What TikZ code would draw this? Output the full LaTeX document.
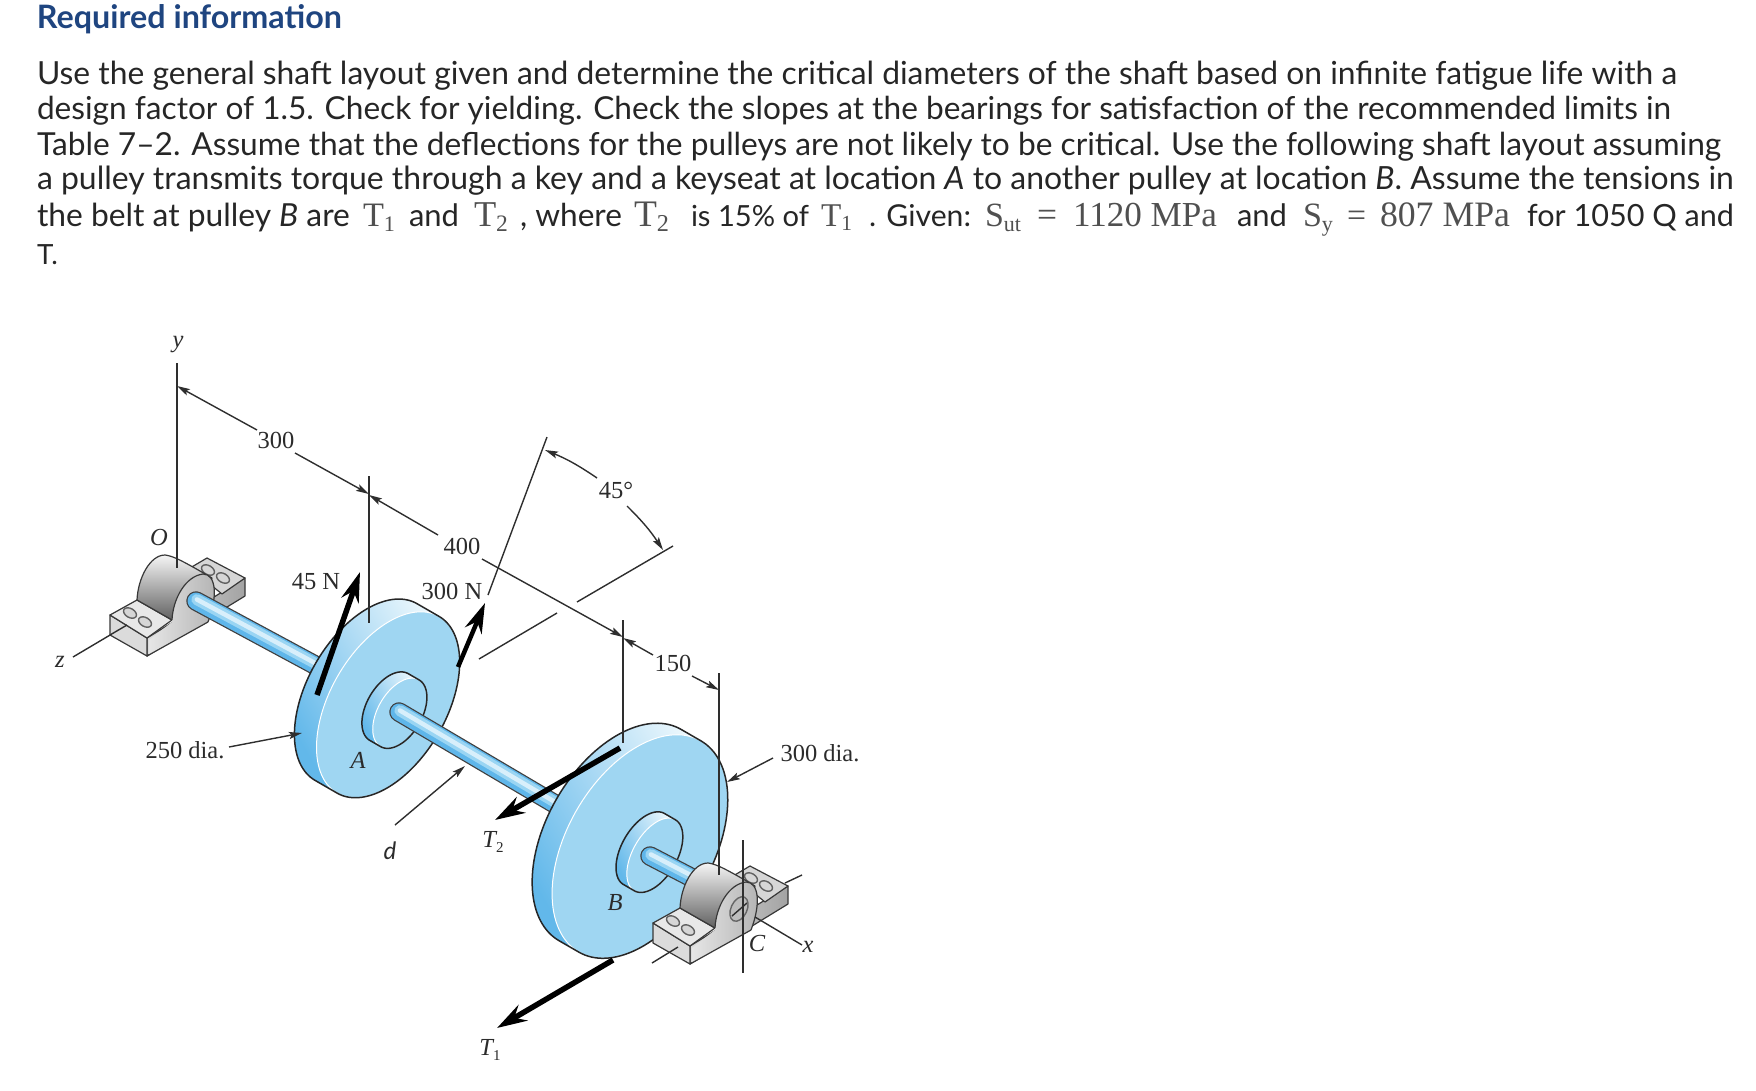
\documentclass[tikz,border=0pt]{standalone}
\usepackage{graphicx}
\usepackage{fontspec}
\setmainfont{Lato}
\newfontfamily\serifx{Liberation Serif}
\usetikzlibrary{calc,arrows.meta}
\definecolor{titleblue}{HTML}{1F4580}
\definecolor{bodyink}{HTML}{262626}
\definecolor{serifgray}{HTML}{505050}
\definecolor{labink}{HTML}{2B2B2B}
\definecolor{rimdeep}{HTML}{62B8EA}
\definecolor{rimmid}{HTML}{A4DAF4}
\definecolor{rimlight}{HTML}{EDF8FD}
\definecolor{faceblue}{HTML}{9FD6F2}
\definecolor{shaftbase}{HTML}{5FB6EA}
\definecolor{shaftmid}{HTML}{9AD5F3}
\definecolor{shaftlight}{HTML}{D8EFFB}
\newcommand\bodyfont{\fontsize{29}{29}\selectfont\color{bodyink}}
\newcommand\sfont{\fontsize{34}{34}\selectfont\serifx\color{serifgray}}
\newcommand\labfont{\fontsize{24.5}{24.5}\selectfont\serifx\color{labink}}
% name, x, baseline y, width, content
\newcommand\fitt[5]{\node[anchor=base west,inner sep=0pt,outer sep=0pt] (#1) at (#2,#3) {\resizebox{#4pt}{!}{#5}};}
\newcommand\tsub[2]{#1\raisebox{-5pt}{\fontsize{22}{22}\selectfont #2}}
\newcommand\lsub[2]{{\itshape #1}\raisebox{-5pt}{\fontsize{15}{15}\selectfont #2}}
\tikzset{
  dimline/.style={draw=black!82,line width=1.4pt},
  dimarrow/.style={dimline,-{Stealth[length=13pt,width=7pt,inset=2.5pt]}},
  forcearrow/.style={draw=black,line width=5.5pt,-{Stealth[length=30pt,width=18pt,inset=10pt]}},
  lab/.style={inner sep=0pt,font=\labfont},
  holeedge/.style={draw=black!62,line width=1.4pt,fill=black!16},
  solidedge/.style={draw=black!78,line width=1.2pt,line join=round},
}
% back centre x,y ; a ; b ; length along shaft axis
\newcommand\pulleybody[5]{%
  \begin{scope}[shift={(#1,#2)},rotate=60]
    \shade[left color=rimlight,middle color=rimmid,right color=rimdeep,shading angle=-60]
      plot[domain=180:360,samples=70] ({#3*cos(\x)},{#4*sin(\x)}) --
      plot[domain=0:180,samples=70] ({#3*cos(\x)},{#5+#4*sin(\x)}) -- cycle;
    \path[fill=faceblue] plot[domain=0:360,samples=120] ({#3*cos(\x)},{#5+#4*sin(\x)}) -- cycle;
    \path[draw=white,line width=1pt] plot[domain=0:360,samples=120] ({#3*cos(\x)},{#5+#4*sin(\x)}) -- cycle;
    \path[draw=black!85,line width=1.5pt,line join=round]
      plot[domain=180:360,samples=70] ({#3*cos(\x)},{#4*sin(\x)}) --
      plot[domain=0:180,samples=70] ({#3*cos(\x)},{#5+#4*sin(\x)}) -- cycle;
  \end{scope}}
% shaft between two named coordinates
\newcommand\shaftbar[2]{%
  \draw[black!75,line width=19.5pt,line cap=round] (#1) -- (#2);
  \draw[shaftbase,line width=17pt,line cap=round] (#1) -- (#2);
  \draw[shaftmid,line width=11pt,line cap=round] ($(#1)!1.6pt!90:(#2)$) -- ($(#2)!1.6pt!-90:(#1)$);
  \draw[shaftlight,line width=4.5pt,line cap=round] ($(#1)!1.8pt!90:(#2)$) -- ($(#2)!1.8pt!-90:(#1)$);}
% bearing pedestal, drawn in the coordinates of the one at O and shifted
\newcommand\bearingblock[2]{%
  \begin{scope}[shift={(#1,#2)}]
    \shade[solidedge,left color=black!14,right color=black!36] (147,638) -- (245,578) -- (245,596) -- (147,656) -- cycle;
    \path[solidedge,fill=black!16] (190,568) -- (207,558) -- (245,578) -- (222,594) -- cycle;
    \path[holeedge,shift={(208,570)},rotate=-30] (0,0) ellipse (7pt and 4.5pt);
    \path[holeedge,shift={(223,578)},rotate=-30] (0,0) ellipse (7pt and 4.5pt);
    \path[solidedge,fill=black!14] (110,615) -- (147,638) -- (147,656) -- (110,635) -- cycle;
    \path[solidedge,fill=black!9] (110,615) -- (137,600) -- (172,620) -- (147,638) -- cycle;
    \path[holeedge,shift={(130,613)},rotate=-30] (0,0) ellipse (7pt and 4.5pt);
    \path[holeedge,shift={(145,622)},rotate=-30] (0,0) ellipse (7pt and 4.5pt);
    \shade[solidedge,top color=black!4,bottom color=black!62]
      (137,600) .. controls (138,578) and (150,555) .. (165,555) .. controls (172,556) and (178,558) .. (212,578)
      -- (203,600) -- (172,620) -- cycle;
    \shade[draw=none,left color=black!10,right color=black!30] (172,622) .. controls (172,598) and (186,576) .. (203,574)
      .. controls (216,574) and (218,596) .. (208,622) -- (149,655) -- (149,640) -- cycle;
    \path[solidedge] (172,620) .. controls (173,598) and (186,576) .. (203,574) .. controls (216,574) and (218,596) .. (208,622);
    \path[solidedge] (147,656) -- (208,622);
  \end{scope}}
\begin{document}
\begin{tikzpicture}[x=1pt,y=-1pt]
\useasboundingbox (0,0) rectangle (1756,1090);
% ---- text ----
\fitt{title}{37}{28}{305}{\fontsize{29}{29}\selectfont\bfseries\color{titleblue}Required information}
\fitt{lineA}{37}{84}{1640}{\bodyfont Use the general shaft layout given and determine the critical diameters of the shaft based on infinite fatigue life with a}
\fitt{lineB}{37}{119}{1634}{\bodyfont design factor of 1.5. Check for yielding. Check the slopes at the bearings for satisfaction of the recommended limits in}
\fitt{lineC}{37}{155}{1684}{\bodyfont Table 7--2. Assume that the deflections for the pulleys are not likely to be critical. Use the following shaft layout assuming}
\fitt{lineD}{37}{189}{1697}{\bodyfont a pulley transmits torque through a key and a keyseat at location \textit{A} to another pulley at location \textit{B}. Assume the tensions in}
\fitt{eA}{37}{226}{313}{\bodyfont the belt at pulley \textit{B} are}
\fitt{eB}{363}{226}{32}{\sfont\tsub{T}{1}}
\fitt{eC}{409}{226}{50}{\bodyfont and}
\fitt{eD}{474}{226}{34}{\sfont\tsub{T}{2}}
\fitt{eE}{520}{226}{102}{\bodyfont , where}
\fitt{eF}{634}{226}{35}{\sfont\tsub{T}{2}}
\fitt{eG}{691}{226}{118}{\bodyfont is 15\% of}
\fitt{eH}{821}{226}{31}{\sfont\tsub{T}{1}}
\fitt{eI}{869}{226}{102}{\bodyfont . Given:}
\fitt{eJ}{985}{226}{36}{\sfont\tsub{S}{ut}}
\fitt{eK}{1037}{226}{20}{\sfont =}
\fitt{eL}{1073}{226}{144}{\sfont 1120 MPa}
\fitt{eM}{1237}{226}{50}{\bodyfont and}
\fitt{eN}{1303}{226}{30}{\sfont\tsub{S}{y}}
\fitt{eO}{1347}{226}{19}{\sfont =}
\fitt{eP}{1380}{226}{130}{\sfont 807 MPa}
\fitt{eQ}{1527}{226}{207}{\bodyfont for 1050 Q and}
\fitt{lineF}{37}{264}{21}{\bodyfont T.}
% ---- named points ----
\coordinate (shaftOa) at (196,601);
\coordinate (shaftOb) at (326,671);
\coordinate (shaftAa) at (399,712);
\coordinate (shaftAb) at (560,807);
\coordinate (shaftBa) at (650,856);
\coordinate (shaftBb) at (700,882);
% ---- axes behind the bearing at O ----
\draw[dimline] (73,657) -- (127,625);
% ---- machine ----
\bearingblock{0}{0}
\draw[dimline] (110,635) -- (127,625);
\shaftbar{shaftOa}{shaftOb}
\pulleybody{366}{692}{102}{58}{25.5}
\pulleybody{389}{707}{38.5}{22}{12.5}
\shaftbar{shaftAa}{shaftAb}
\pulleybody{620}{835}{122}{73}{23}
\pulleybody{644}{849}{41}{22}{12.5}
\shaftbar{shaftBa}{shaftBb}
\draw[dimline] (785,883) -- (802,875);
\bearingblock{543}{308}
\draw[dimline] (652,963) -- (678,947);
\path[draw=black!60,line width=1.4pt,fill=black!26,shift={(739,909)},rotate=65] (0,0) ellipse (13pt and 8pt);
\draw[dimline] (732,916) -- (747,903);
% ---- extension lines ----
\coordinate (yTop) at (177,363);   \coordinate (yFoot) at (177,568);
\coordinate (aTop) at (369,476);   \coordinate (aFoot) at (369,623);
\coordinate (bTop) at (623,620);   \coordinate (bFoot) at (623,743);
\coordinate (cTop) at (719,673);   \coordinate (cFoot) at (719,875);
\coordinate (dTop) at (743,840);   \coordinate (dFoot) at (743,973);
\draw[dimline] (yTop) -- (yFoot);
\draw[dimline] (aTop) -- (aFoot);
\draw[dimline] (bTop) -- (bFoot);
\draw[dimline] (cTop) -- (cFoot);
\draw[dimline] (dTop) -- (dFoot);
% ---- x axis ----
\coordinate (xStart) at (755,917); \coordinate (xEnd) at (802,945);
\draw[dimline] (xStart) -- (xEnd);
% ---- dimension labels ----
\node[lab] (d300) at (276,440) {300};
\node[lab] (d400) at (462,546) {400};
\node[lab] (d150) at (673,663) {150};
\node[lab] (d45) at (616,490) {45°};
\node[lab] (n45) at (316,582) {45 N};
\node[lab] (n300) at (452,591) {300 N};
\node[lab] (dia250) at (185,750) {250 dia.};
\node[lab] (dia300) at (820,753) {300 dia.};
\node[lab,font=\labfont\itshape] (ly) at (178,345) {y};
\node[lab,font=\labfont\itshape] (lz) at (60,662) {z};
\node[lab,font=\labfont\itshape] (lO) at (159,538) {O};
\node[lab,font=\labfont\itshape] (lA) at (358,760) {A};
\node[lab,font=\labfont\itshape] (lB) at (615,903) {B};
\node[lab,font=\labfont\itshape] (lC) at (757,943) {C};
\node[lab,font=\labfont\itshape] (lx) at (808,947) {x};
\node[lab] (lT2) at (493,842) {\lsub{T}{2}};
\node[lab] (lT1) at (490,1050) {\lsub{T}{1}};
\node[inner sep=0pt,font=\fontsize{24}{24}\selectfont\itshape\color{labink}] (ld) at (390,851) {d};
% ---- dimension lines ----
\draw[dimarrow] (257,430) -- (177,386);
\draw[dimarrow] (295,453) -- (369,494);
\draw[dimarrow] (438,535) -- (369,495);
\draw[dimarrow] (482,559) -- (623,637);
\draw[dimarrow] (653,655) -- (623,638);
\draw[dimarrow] (692,676) -- (719,690);
% ---- 45 degree construction ----
\coordinate (angA) at (547,437); \coordinate (angB) at (488,595);
\coordinate (angC) at (673,546); \coordinate (angD) at (577,602);
\coordinate (angE) at (557,613); \coordinate (angF) at (479,659);
\draw[dimline] (angA) -- (angB);
\draw[dimline] (angC) -- (angD);
\draw[dimline] (angE) -- (angF);
\draw[dimarrow] (597,478) to[bend right=6] (545,450);
\draw[dimarrow] (627,506) to[bend left=6] (663,550);
% ---- leaders ----
\draw[dimarrow] (229,747) -- (302,733);
\draw[dimarrow] (773,758) -- (727,782);
\draw[dimarrow] (395,825) -- (465,766);
% ---- forces ----
\coordinate (f45a) at (317,695);  \coordinate (f45b) at (360,572);
\coordinate (f300a) at (458,667); \coordinate (f300b) at (485,603);
\coordinate (fT2a) at (620,748);  \coordinate (fT2b) at (495,820);
\coordinate (fT1a) at (613,960);  \coordinate (fT1b) at (497,1028);
\draw[forcearrow] (f45a) -- (f45b);
\draw[forcearrow,line width=4.5pt] (f300a) -- (f300b);
\draw[forcearrow] (fT2a) -- (fT2b);
\draw[forcearrow] (fT1a) -- (fT1b);
\end{tikzpicture}
\end{document}
